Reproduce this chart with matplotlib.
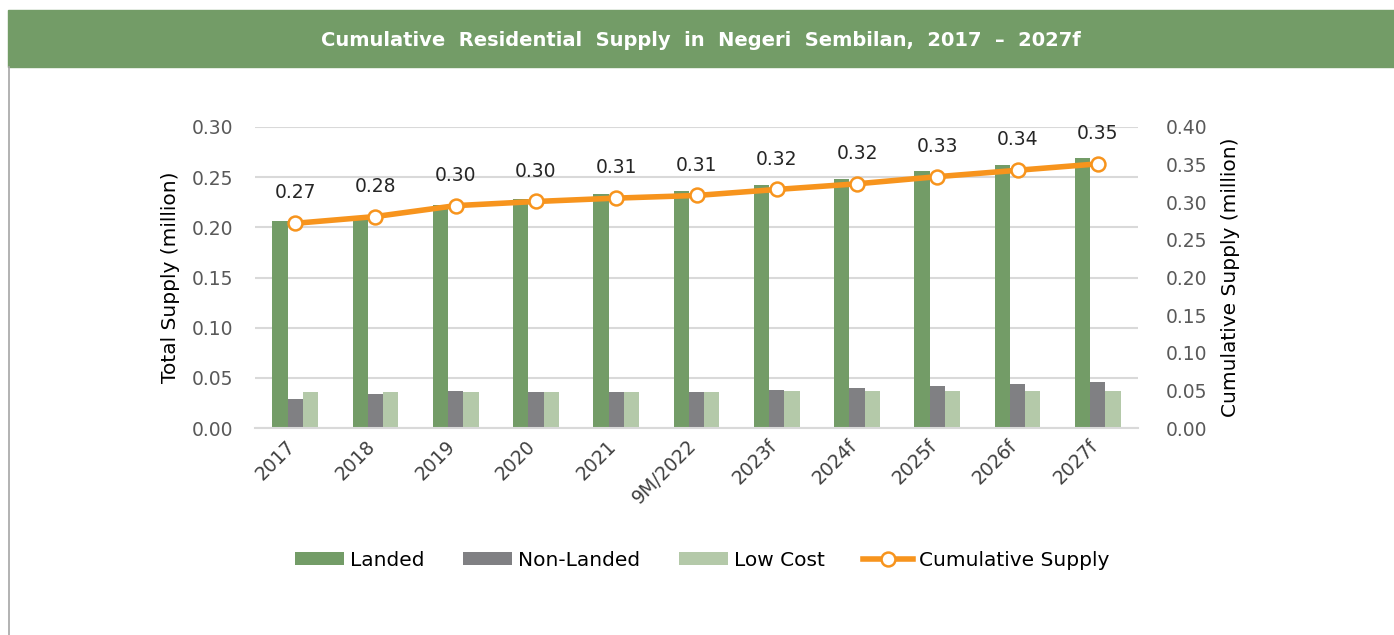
import numpy as np
import matplotlib
matplotlib.use("Agg")
import matplotlib.pyplot as plt
from matplotlib.patches import Rectangle
from matplotlib.lines import Line2D
from matplotlib.transforms import ScaledTranslation

# data
categories = ['2017', '2018', '2019', '2020', '2021', '9M/2022',
              '2023f', '2024f', '2025f', '2026f', '2027f']
landed = [0.206, 0.208, 0.222, 0.228, 0.233, 0.236, 0.242, 0.248, 0.256, 0.262, 0.269]
non_landed = [0.029, 0.0335, 0.037, 0.0355, 0.036, 0.036, 0.038, 0.040, 0.042, 0.044, 0.046]
low_cost = [0.036, 0.036, 0.0355, 0.036, 0.036, 0.036, 0.0365, 0.0365, 0.0365, 0.0365, 0.0365]
cumulative = [0.272, 0.281, 0.2955, 0.301, 0.3055, 0.309, 0.317, 0.3245, 0.334, 0.3425, 0.351]
cum_labels = ['0.27', '0.28', '0.30', '0.30', '0.31', '0.31',
              '0.32', '0.32', '0.33', '0.34', '0.35']

green = '#739c67'
grey = '#808083'
light_green = '#b4c9a9'
orange = '#f7941d'
tick_grey = '#595959'

plt.rcParams['font.family'] = ['DejaVu Sans']

fig = plt.figure(figsize=(13.94, 6.35), dpi=100)

# header band and left border
fig.patches.append(Rectangle((8 / 1394, 1 - 67 / 635), 1, 57 / 635,
                             transform=fig.transFigure, color=green, zorder=0))
fig.lines.append(Line2D([9 / 1394, 9 / 1394], [0, 1 - 67 / 635],
                        transform=fig.transFigure, color='#a6a6a6', lw=1.2))
fig.text(0.5025, 1 - 40 / 635,
         'Cumulative  Residential  Supply  in  Negeri  Sembilan,  2017  \u2013  2027f',
         color='white', fontsize=14, fontweight='bold', ha='center', va='center')

ax = fig.add_axes([255 / 1394, 1 - 428 / 635, 883 / 1394, 301 / 635])
x = np.arange(len(categories))
w = 0.19
ax.bar(x - w, landed, w, color=green, label='Landed', zorder=2)
ax.bar(x, non_landed, w, color=grey, label='Non-Landed', zorder=2)
ax.bar(x + w, low_cost, w, color=light_green, label='Low Cost', zorder=2)

ax.set_xlim(-0.5, len(categories) - 0.5)
ax.set_ylim(0, 0.30)
ax.set_yticks(np.arange(0, 0.301, 0.05))
ax.set_yticklabels(['%.2f' % v for v in np.arange(0, 0.301, 0.05)])
ax.yaxis.grid(True, color='#d9d9d9', lw=1.5, zorder=0)
ax.set_axisbelow(True)
for s in ['top', 'left', 'right']:
    ax.spines[s].set_visible(False)
ax.spines['bottom'].set_color('#d9d9d9')
ax.spines['bottom'].set_linewidth(1.5)
ax.tick_params(axis='y', length=0, labelsize=13.5, labelcolor=tick_grey, pad=16)
ax.tick_params(axis='x', length=0, labelsize=13.5, labelcolor='#404040', pad=6)
ax.set_xticks(x)
ax.set_xticklabels(categories, rotation=45, ha='right', rotation_mode='anchor')
shift = ScaledTranslation(-10 / 100, 0, fig.dpi_scale_trans)
for lab in ax.get_xticklabels():
    lab.set_transform(lab.get_transform() + shift)
ax.set_ylabel('Total Supply (million)', fontsize=14.5, labelpad=8)

ax2 = ax.twinx()
ax2.set_ylim(0, 0.40)
ax2.set_yticks(np.arange(0, 0.401, 0.05))
ax2.set_yticklabels(['%.2f' % v for v in np.arange(0, 0.401, 0.05)])
for s in ['top', 'left', 'right', 'bottom']:
    ax2.spines[s].set_visible(False)
ax2.tick_params(axis='y', length=0, labelsize=13.5, labelcolor=tick_grey, pad=20)
ax2.set_ylabel('Cumulative Supply (million)', fontsize=14.5, labelpad=10)
ax2.plot(x, cumulative, color=orange, lw=4, marker='o', markersize=10,
         markerfacecolor='white', markeredgecolor=orange, markeredgewidth=1.8,
         label='Cumulative Supply', zorder=3)
for xi, yi, lab in zip(x, cumulative, cum_labels):
    ax2.annotate(lab, (xi, yi), xytext=(0, 15), textcoords='offset points',
                 ha='center', va='bottom', fontsize=13.5, color='#262626')

h1, l1 = ax.get_legend_handles_labels()
h2, l2 = ax2.get_legend_handles_labels()
fig.legend(h1 + h2, l1 + l2, loc='center',
           bbox_to_anchor=(0.5 + 5 / 1394, 1 - 560 / 635),
           ncol=4, frameon=False, fontsize=14.5, handlelength=2.45, handleheight=0.6,
           columnspacing=1.9, handletextpad=0.3)

fig.savefig('out.png', dpi=100)
